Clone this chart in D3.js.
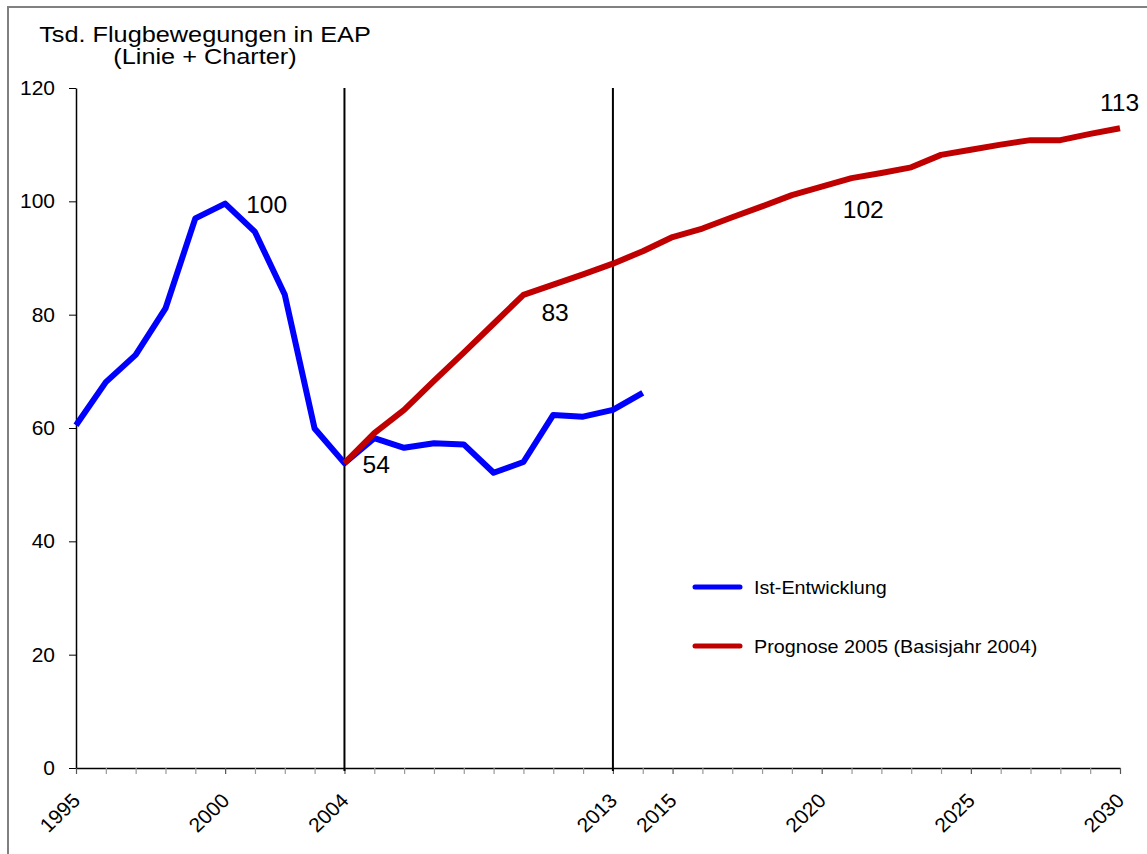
<!DOCTYPE html>
<html>
<head>
<meta charset="utf-8">
<script src="https://cdn.jsdelivr.net/npm/d3@7"></script>
<style>
    body { margin: 0; background: #fff; }
    svg text { font-family: 'Liberation Sans', Arial, sans-serif; fill: #000; }
</style>
</head>
<body>
<svg id="chart" width="1147" height="854"></svg>
<script>
// Ist-Entwicklung 1995 - 2014
const istYears = d3.range(1995, 2015);
const istValues = [60.5, 68.1, 72.9, 81.1, 97.0, 99.6, 94.6, 83.5, 59.9, 53.8,
    58.2, 56.5, 57.3, 57.1, 52.1, 54.0, 62.3, 62.0, 63.2, 66.2];

// Prognose 2005 (Basisjahr 2004), 2004 - 2030
const progYears = d3.range(2004, 2031);
const progValues = [53.8, 59.1, 63.2, 68.3, 73.3, 78.4, 83.5, 85.3, 87.1, 89.0,
    91.2, 93.7, 95.2, 97.2, 99.1, 101.1, 102.6, 104.1, 105.0, 106.0,
    108.2, 109.1, 110.0, 110.8, 110.8, 111.9, 112.9];

const seriesNames = ['Ist-Entwicklung', 'Prognose 2005 (Basisjahr 2004)'];
const seriesColors = ['#0000ff', '#c00000'];

const yTicks = [0, 20, 40, 60, 80, 100, 120];
const xLabelYears = [1995, 2000, 2004, 2013, 2015, 2020, 2025, 2030];
const markerYears = [2004, 2013];

const annotationYears = [2000, 2004, 2010, 2020, 2030];
const annotationTexts = ['100', '54', '83', '102', '113'];

const titleLines = ['Tsd. Flugbewegungen in EAP', '(Linie + Charter)'];

const svg = d3.select('#chart');

svg.append('rect')
    .attr('x', 8)
    .attr('y', 7)
    .attr('width', 1200)
    .attr('height', 900)
    .attr('fill', 'none')
    .attr('stroke', '#808080')
    .attr('stroke-width', 2);

const x = d3.scaleLinear().domain([1995, 2030]).range([76, 1120]);
const y = d3.scaleLinear().domain([0, 120]).range([768, 88]);

// title (source picture is a bit wider than tall)
svg.selectAll('.title')
    .data(titleLines)
    .enter()
    .append('text')
    .attr('class', 'title')
    .attr('text-anchor', 'middle')
    .attr('font-size', '22px')
    .attr('transform', (d, i) => `translate(205,${42 + i * 22}) scale(1.15,1)`)
    .text(d => d);

// y axis
const yAxis = svg.append('g')
    .attr('transform', `translate(${x(1995)},0)`)
    .call(d3.axisLeft(y).tickValues(yTicks).tickSize(7).tickSizeOuter(0).tickPadding(13));
yAxis.select('.domain').attr('stroke', '#000').attr('stroke-width', 1.5);
yAxis.selectAll('.tick line').attr('stroke', '#000');
yAxis.selectAll('.tick text')
    .attr('font-size', '20px')
    .attr('font-family', null)
    .attr('transform', 'scale(1.05,1)');

// x axis with a tick every year
const xAxis = svg.append('g')
    .attr('transform', `translate(0,${y(0)})`)
    .call(d3.axisBottom(x)
        .tickValues(d3.range(1995, 2031))
        .tickSize(6)
        .tickSizeOuter(0)
        .tickFormat(d => (xLabelYears.includes(d) ? d : '')));
xAxis.select('.domain').attr('stroke', '#000').attr('stroke-width', 1.5);
xAxis.selectAll('.tick line')
    .attr('stroke', d => (xLabelYears.includes(d) ? '#555' : '#999'))
    .attr('stroke-width', 1.2);
xAxis.selectAll('.tick text')
    .attr('font-size', '20px')
    .attr('font-family', null)
    .attr('text-anchor', 'end')
    .attr('y', 0)
    .attr('dy', 0)
    .attr('transform', 'translate(5,34) scale(1.05,1) rotate(-45)');

// vertical markers
svg.selectAll('.marker')
    .data(markerYears)
    .enter()
    .append('line')
    .attr('class', 'marker')
    .attr('x1', d => x(d))
    .attr('x2', d => x(d))
    .attr('y1', y(120))
    .attr('y2', y(0) + 3)
    .attr('stroke', '#000')
    .attr('stroke-width', 2);

// lines
const line = d3.line()
    .x(d => x(d[0]))
    .y(d => y(d[1]));

const series = [
    d3.zip(istYears, istValues),
    d3.zip(progYears, progValues)
];

svg.selectAll('.series')
    .data(series)
    .enter()
    .append('path')
    .attr('class', 'series')
    .attr('d', line)
    .attr('fill', 'none')
    .attr('stroke', (d, i) => seriesColors[i])
    .attr('stroke-width', 6)
    .attr('stroke-linejoin', 'round');

// value labels
const valueAt = yr => (yr <= 2004 ? istValues[istYears.indexOf(yr)] : progValues[progYears.indexOf(yr)]);
const labelOffsets = [[21, 9], [18, 10], [18, 26], [21, 31], [-20, -17]];

svg.selectAll('.annotation')
    .data(annotationYears)
    .enter()
    .append('text')
    .attr('class', 'annotation')
    .attr('font-size', '23px')
    .attr('transform', (d, i) =>
        `translate(${x(d) + labelOffsets[i][0]},${y(valueAt(d)) + labelOffsets[i][1]}) scale(1.07,1)`)
    .text((d, i) => annotationTexts[i]);

// legend
const legend = svg.selectAll('.legend')
    .data(seriesNames)
    .enter()
    .append('g')
    .attr('class', 'legend')
    .attr('transform', (d, i) => `translate(695,${587 + i * 59})`);

legend.append('line')
    .attr('x1', 0)
    .attr('x2', 45)
    .attr('stroke', (d, i) => seriesColors[i])
    .attr('stroke-width', 5)
    .attr('stroke-linecap', 'round');

legend.append('text')
    .attr('font-size', '19px')
    .attr('transform', 'translate(59,7) scale(1.04,1)')
    .text(d => d);
</script>
</body>
</html>
